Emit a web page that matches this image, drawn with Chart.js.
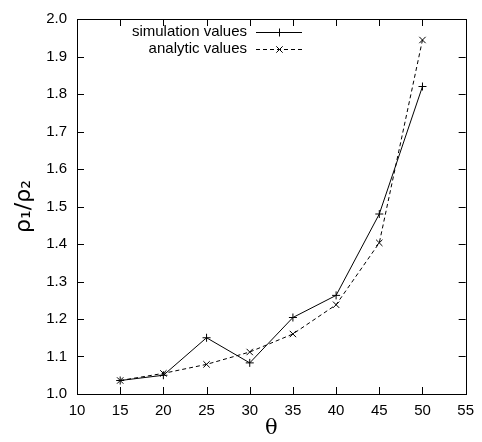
<!DOCTYPE html>
<html>
<head>
<meta charset="utf-8">
<script src="https://cdn.jsdelivr.net/npm/chart.js@4.4.0/dist/chart.umd.min.js"></script>
<style>
  html, body { margin: 0; padding: 0; background: #fff; }
  #wrap { width: 482px; height: 442px; }
</style>
</head>
<body>
<div id="wrap"><canvas id="ratioChart" width="482" height="442"></canvas></div>
<script>
// data
const thetaValues = [15, 20, 25, 30, 35, 40, 45, 50];
const simulationValues = [1.036, 1.050, 1.150, 1.083, 1.204, 1.263, 1.480, 1.820];
const analyticValues = [1.036, 1.055, 1.079, 1.112, 1.160, 1.238, 1.403, 1.944];
const seriesLabels = ['simulation values', 'analytic values'];

const tickFont = { family: 'Liberation Sans, Arial, sans-serif', size: 15 };

const toPoints = vals => thetaValues.map((t, i) => ({ x: t, y: vals[i] }));

// gnuplot-like frame with inward ticks on all four sides
const frameTicks = {
    id: 'frameTicks',
    afterDraw(chart) {
        const { ctx, chartArea: a, scales } = chart;
        const len = 7;
        ctx.save();
        ctx.strokeStyle = '#000';
        ctx.lineWidth = 1;
        ctx.beginPath();
        scales.x.ticks.forEach(t => {
            const px = Math.round(scales.x.getPixelForValue(t.value)) + 0.5;
            ctx.moveTo(px, a.bottom); ctx.lineTo(px, a.bottom - len);
            ctx.moveTo(px, a.top); ctx.lineTo(px, a.top + len);
        });
        scales.y.ticks.forEach(t => {
            const py = Math.round(scales.y.getPixelForValue(t.value)) + 0.5;
            ctx.moveTo(a.left, py); ctx.lineTo(a.left + len, py);
            ctx.moveTo(a.right, py); ctx.lineTo(a.right - len, py);
        });
        ctx.stroke();
        ctx.strokeRect(Math.round(a.left) + 0.5, Math.round(a.top) + 0.5,
            Math.round(a.right - a.left), Math.round(a.bottom - a.top));
        ctx.restore();
    }
};

// legend in the gnuplot style: label right-aligned, then sample line with marker
const keyBox = {
    id: 'keyBox',
    afterDraw(chart) {
        const { ctx } = chart;
        const textRight = 247, x0 = 256, x1 = 302, rows = [32, 49];
        ctx.save();
        ctx.font = '15px Liberation Sans, Arial, sans-serif';
        ctx.fillStyle = '#000';
        ctx.textAlign = 'right';
        ctx.textBaseline = 'middle';
        chart.data.datasets.forEach((ds, i) => {
            const y = rows[i] + 0.5;
            ctx.fillText(ds.label, textRight, rows[i]);
            ctx.strokeStyle = '#000';
            ctx.lineWidth = 1;
            ctx.setLineDash(ds.borderDash || []);
            ctx.beginPath();
            ctx.moveTo(x0, y); ctx.lineTo(x1, y);
            ctx.stroke();
            ctx.setLineDash([]);
            const cx = (x0 + x1) / 2 + 0.5, r = 4;
            ctx.beginPath();
            if (ds.pointStyle === 'cross') {
                ctx.moveTo(cx - r, y); ctx.lineTo(cx + r, y);
                ctx.moveTo(cx, y - r); ctx.lineTo(cx, y + r);
            } else {
                const d = r * 0.8;
                ctx.moveTo(cx - d, y - d); ctx.lineTo(cx + d, y + d);
                ctx.moveTo(cx - d, y + d); ctx.lineTo(cx + d, y - d);
            }
            ctx.stroke();
        });
        ctx.restore();
    }
};

new Chart(document.getElementById('ratioChart'), {
    type: 'line',
    data: {
        datasets: [{
            label: seriesLabels[0],
            data: toPoints(simulationValues),
            borderColor: '#000',
            borderWidth: 1,
            pointStyle: 'cross',
            pointRadius: 4,
            pointBorderColor: '#000',
            pointBorderWidth: 1,
            fill: false,
            tension: 0
        }, {
            label: seriesLabels[1],
            data: toPoints(analyticValues),
            borderColor: '#000',
            borderWidth: 1,
            borderDash: [4, 3],
            pointStyle: 'crossRot',
            pointRadius: 4.5,
            pointBorderColor: '#000',
            pointBorderWidth: 1,
            fill: false,
            tension: 0
        }]
    },
    options: {
        responsive: false,
        animation: false,
        layout: { padding: { left: 0, right: 11, top: 16, bottom: 0 } },
        plugins: { legend: { display: false }, tooltip: { enabled: false } },
        scales: {
            x: {
                type: 'linear',
                min: 10, max: 55,
                grid: { display: false, drawTicks: false },
                border: { display: false },
                ticks: { stepSize: 5, color: '#000', font: tickFont, padding: 8, maxRotation: 0 },
                title: { display: true, text: 'θ', color: '#000',
                    font: { family: 'DejaVu Serif, Liberation Serif, serif', size: 21 }, padding: { top: 0, bottom: 1 } },
                afterFit(scale) { scale.height = 48; }
            },
            y: {
                min: 1.0, max: 2.0,
                grid: { display: false, drawTicks: false },
                border: { display: false },
                ticks: { stepSize: 0.1, color: '#000', font: tickFont, padding: 10,
                    callback: v => v.toFixed(1) },
                title: { display: true, text: 'ρ₁/ρ₂', color: '#000',
                    font: { family: 'DejaVu Sans, Liberation Sans, sans-serif', size: 22 }, padding: { top: 11, bottom: 0 } },
                afterFit(scale) { scale.width = 77; }
            }
        }
    },
    plugins: [frameTicks, keyBox]
});
</script>
</body>
</html>
